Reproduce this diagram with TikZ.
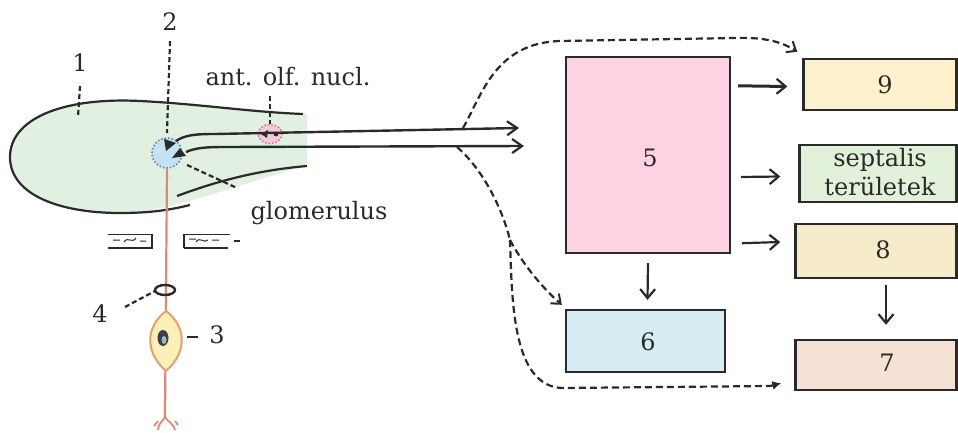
\documentclass[tikz,border=0pt]{standalone}
\usepackage{fontspec}
\setmainfont{DejaVu Serif}
\usetikzlibrary{arrows.meta,calc,shapes.geometric}
\definecolor{ink}{HTML}{2A2A2A}
\definecolor{c5}{HTML}{FDD2E3}
\definecolor{c9}{HTML}{FCF1CC}
\definecolor{csep}{HTML}{E2F1D9}
\definecolor{c8}{HTML}{F6ECCB}
\definecolor{c6}{HTML}{D6ECF3}
\definecolor{c7}{HTML}{F5E2D5}
\definecolor{bulb}{HTML}{E2F0E2}
\definecolor{glom}{HTML}{C4E2F4}
\definecolor{glomrim}{HTML}{5A88AE}
\definecolor{aon}{HTML}{F6C8D8}
\definecolor{aonrim}{HTML}{C87890}
\definecolor{axon}{HTML}{DC8A78}
\definecolor{soma}{HTML}{FBF1B8}
\definecolor{somarim}{HTML}{E6A070}
\tikzset{
  area/.style={draw=ink, line width=2.4pt, minimum width=#1, inner sep=0pt},
  lbl/.style={text=ink, font=\fontsize{24}{28}\selectfont, inner sep=0pt},
  flow/.style={draw=ink, line width=2.2pt, -{Straight Barb[length=9pt,width=15pt,line width=2.2pt]}},
  tract/.style={draw=ink, line width=2.4pt, -{Straight Barb[length=10pt,width=14pt,line width=2.2pt]}},
  side/.style={draw=ink, line width=2.2pt, dash pattern=on 7pt off 4pt},
  pointer/.style={draw=ink, line width=2.2pt, dash pattern=on 5pt off 3pt},
}
\begin{document}
\begin{tikzpicture}[x=1pt,y=-1pt]
\useasboundingbox (0,0) rectangle (958,433);

% olfactory bulb
\fill[bulb] (307,114) .. controls (250,112) and (200,104) .. (140,101)
  .. controls (60,97) and (10,120) .. (10,157)
  .. controls (10,195) and (60,213) .. (120,213)
  .. controls (170,213) and (250,180) .. (307,166) -- cycle;
\draw[ink, line width=2.2pt] (303,114) .. controls (250,112) and (200,104) .. (140,101)
  .. controls (60,97) and (10,120) .. (10,157)
  .. controls (10,195) and (60,213) .. (120,213)
  .. controls (150,213) and (170,210) .. (190,205);
\draw[ink, line width=2.2pt] (177,196) .. controls (220,180) and (260,170) .. (307,166);

% glomerulus and anterior olfactory nucleus
\node[circle, minimum size=30pt, inner sep=0pt, fill=glom, draw=glomrim,
      line width=1.6pt, dash pattern=on 1.5pt off 2pt] (glom) at (167,153) {};
\node[ellipse, minimum width=24pt, minimum height=19pt, inner sep=0pt, fill=aon,
      draw=aonrim, line width=1.6pt, dash pattern=on 1.5pt off 2pt] (aon) at (270,134) {};
\fill[ink] (164,139) -- (176,143) -- (166,151) -- cycle;
\fill[ink] (172,158) -- (180,148) -- (186,156) -- cycle;
\fill[ink] (261,134) -- (268,130) -- (267,138) -- cycle;
\fill[ink] (276,134) circle (2.4pt);

% output tract
\coordinate (tA) at (519,128);
\coordinate (tB) at (524,146);
\draw[tract] (176,141) .. controls (185,135) and (195,134) .. (215,134) -- (tA);
\draw[tract] (186,152) .. controls (195,148) and (205,147) .. (225,147) -- (tB);

% cribriform plate
\draw[ink, line width=1pt] (108,234) -- (152,234);
\draw[ink, line width=2.8pt] (108,248) -- (153,248);
\draw[ink, line width=1.2pt] (152,234) -- (152,248);
\draw[ink, line width=1pt] (113,240) -- (120,240) (124,242) .. controls (128,236) and (132,244) .. (136,238) (140,241) -- (146,241);
\draw[ink, line width=1pt] (183,234) -- (230,234);
\draw[ink, line width=2.8pt] (184,248) -- (228,248);
\draw[ink, line width=2.4pt] (184,234) -- (184,248);
\draw[ink, line width=1pt] (189,239) -- (196,239) (196,242) .. controls (200,236) and (204,244) .. (208,240) (212,240) -- (219,240);
\draw[ink, line width=1.8pt] (234,241) -- (240,241);

% receptor neuron
\draw[axon, line width=2.2pt] (glom.south) -- (165,417);
\draw[axon, line width=1.8pt] (165,417) .. controls (162,422) and (158,424) .. (158,430)
  (165,417) .. controls (168,422) and (173,423) .. (175,430)
  (158,421) -- (154,426) (175,421) -- (178,425);
\draw[ink, line width=2.4pt] (165,290) ellipse (10pt and 5pt);
\fill[soma] (166,311) .. controls (146,326) and (144,352) .. (166,371)
  .. controls (188,352) and (186,326) .. (166,311) -- cycle;
\draw[somarim, line width=2pt] (166,311) .. controls (146,326) and (144,352) .. (166,371)
  .. controls (188,352) and (186,326) .. (166,311) -- cycle;
\fill[ink!90] (163,338) ellipse (5.5pt and 8pt);
\fill[glomrim!60] (164,340) ellipse (2.5pt and 4pt);

% labels on the bulb
\node[lbl] (l1) at (80,63) {1};
\node[lbl] (l2) at (170,22) {2};
\node[lbl] (laon) at (288,77) {ant. olf. nucl.};
\node[lbl] (lglom) at (319,213) {glomerulus};
\node[lbl] (l3) at (217,335) {3};
\node[lbl] (l4) at (100,314) {4};
\draw[pointer] (80,86) -- (78,117);
\draw[pointer] (l2.south) ++(0,10) -- (167,133);
\draw[pointer] (laon.south) ++(-18,10) -- (270,124);
\draw[pointer] (187,165) -- (237,188);
\draw[ink, line width=2pt] (187,337) -- (198,337);
\draw[pointer] (125,307) -- (155,291);

% target areas
\node[area=164pt, minimum height=196pt, fill=c5] (n5) at (648,155) {};
\node[lbl] at (650,158) {5};
\node[area=153pt, minimum height=51pt, fill=c9] (n9) at (880,84.5) {};
\node[lbl] at (885,85) {9};
\node[area=157pt, minimum height=57pt, fill=csep] (nsep) at (878,173.5) {};
\node[lbl, align=center, font=\fontsize{24}{29}\selectfont] at (880,172) {septalis\\területek};
\node[area=161pt, minimum height=54pt, fill=c8] (n8) at (876,251) {};
\node[lbl] at (883,250) {8};
\node[area=159pt, minimum height=62pt, fill=c6] (n6) at (645.5,341) {};
\node[lbl] at (648,342) {6};
\node[area=161pt, minimum height=50pt, fill=c7] (n7) at (876,365) {};
\node[lbl] at (887,363) {7};

% projections between areas
\draw[flow, line width=3pt] ($(n5.north east)+(7,30)$) -- ($(n9.west)+(-15,2)$);
\draw[flow] ($(n5.east)+(10,22)$) -- ($(nsep.west)+(-18,3)$);
\draw[flow] ($(n5.south east)+(11,-11)$) -- ($(n8.west)+(-14,-9)$);
\draw[flow] ($(n5.south)+(0,9)$) -- ($(n6.north)+(2,-9)$);
\draw[flow] ($(n8.south)+(10,6)$) -- ($(n7.north)+(10,-14)$);

% dashed side projections
\coordinate (fork) at (510,240);
\draw[side, -{Straight Barb[length=8pt,width=13pt,line width=2pt]}]
  (463,128) .. controls (482,95) and (495,43) .. (560,41) -- (735,38)
  .. controls (765,37) and (782,42) .. ($(n9.north west)+(-5,-6)$);
\draw[side] (457,147) .. controls (478,165) and (500,200) .. (fork);
\draw[side, -{Straight Barb[length=8pt,width=13pt,line width=2pt]}]
  (fork) .. controls (525,268) and (545,290) .. ($(n6.north west)+(-3,-4)$);
\draw[side, -{Latex[length=9pt,width=9pt]}]
  (fork) .. controls (512,300) and (512,386) .. (562,388) -- (770,386)
  -- ($(n7.south west)+(-13,-8)$);
\end{tikzpicture}
\end{document}
